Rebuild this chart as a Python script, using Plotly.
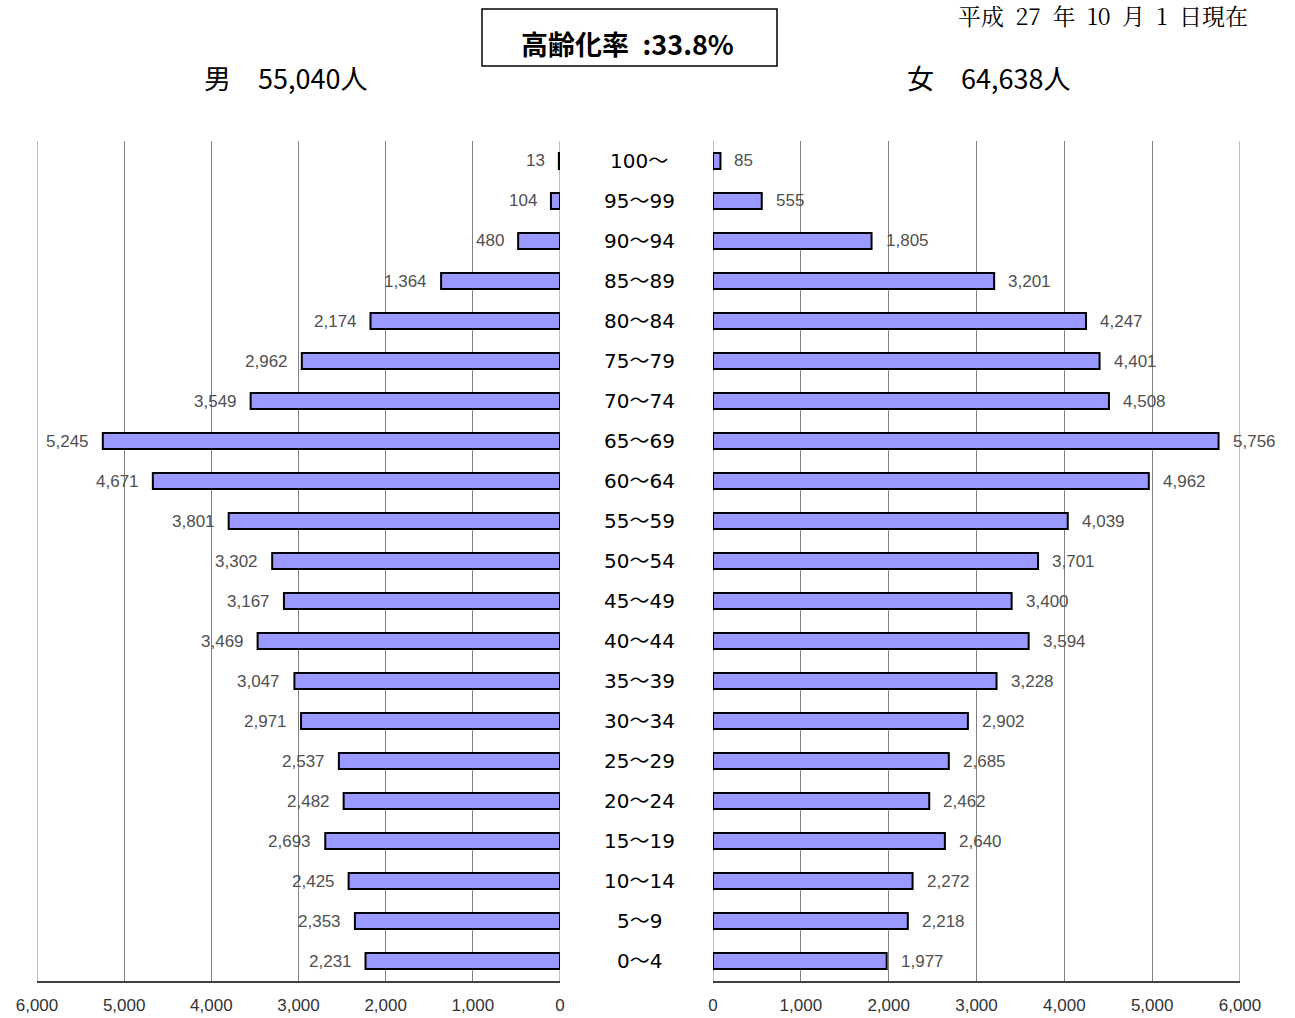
import plotly.graph_objects as go

categories = ["100～", "95～99", "90～94", "85～89", "80～84", "75～79", "70～74",
              "65～69", "60～64", "55～59", "50～54", "45～49", "40～44", "35～39",
              "30～34", "25～29", "20～24", "15～19", "10～14", "5～9", "0～4"]
male = [13, 104, 480, 1364, 2174, 2962, 3549, 5245, 4671, 3801, 3302, 3167,
        3469, 3047, 2971, 2537, 2482, 2693, 2425, 2353, 2231]
female = [85, 555, 1805, 3201, 4247, 4401, 4508, 5756, 4962, 4039, 3701, 3400,
          3594, 3228, 2902, 2685, 2462, 2640, 2272, 2218, 1977]
tick_vals = [0, 1000, 2000, 3000, 4000, 5000, 6000]
tick_text = ["0", "1,000", "2,000", "3,000", "4,000", "5,000", "6,000"]

W, H = 1295, 1018
NARROW = "Liberation Sans Narrow, Arial Narrow, Liberation Sans, sans-serif"
CJK = "Noto Sans CJK JP, Noto Sans, sans-serif"
CAT = "DejaVu Sans, Noto Sans CJK JP, sans-serif"

fig = go.Figure()
bar_style = dict(orientation="h", width=0.4,
                 marker=dict(color="#9999FF", line=dict(color="#000000", width=2)),
                 hoverinfo="x+y", showlegend=False)
fig.add_trace(go.Bar(y=categories, x=male, xaxis="x", yaxis="y", name="男", **bar_style))
fig.add_trace(go.Bar(y=categories, x=female, xaxis="x2", yaxis="y", name="女", **bar_style))

annotations = []
label_font = dict(family=NARROW, size=17, color="#505050")
for c, m, f in zip(categories, male, female):
    annotations.append(dict(x=m, y=c, xref="x", yref="y", text=f"{m:,}",
                            showarrow=False, xanchor="right", xshift=-12,
                            font=label_font))
    annotations.append(dict(x=f, y=c, xref="x2", yref="y", text=f"{f:,}",
                            showarrow=False, xanchor="left", xshift=12,
                            font=label_font))
    annotations.append(dict(x=639 / W, y=c, xref="paper", yref="y", text=c,
                            showarrow=False, xanchor="center",
                            font=dict(family=CAT, size=20, color="#000000")))

def py(p):
    return 1 - p / H

annotations += [
    dict(x=285 / W, y=py(78), xref="paper", yref="paper", text="男　55,040人",
         showarrow=False, xanchor="center", yanchor="middle",
         font=dict(family=CJK, size=27, color="#000")),
    dict(x=988 / W, y=py(78), xref="paper", yref="paper", text="女　64,638人",
         showarrow=False, xanchor="center", yanchor="middle",
         font=dict(family=CJK, size=27, color="#000")),
    dict(x=627 / W, y=py(43), xref="paper", yref="paper", text="<b>高齢化率\u2002:33.8%</b>",
         showarrow=False, xanchor="center", yanchor="middle",
         font=dict(family=CJK, size=27, color="#000")),
    dict(x=1250 / W, y=py(15), xref="paper", yref="paper",
         text="平成\u200227\u2002年\u200210\u2002月\u20021\u2002日現在",
         showarrow=False, xanchor="right", yanchor="middle",
         font=dict(family="Noto Serif CJK JP, Noto Sans CJK JP, serif", size=23, color="#000")),
]

shapes = [dict(type="rect", xref="paper", yref="paper",
               x0=482 / W, x1=777 / W, y0=py(66), y1=py(9),
               line=dict(color="#000", width=1.5), fillcolor="rgba(0,0,0,0)")]
# edge grid lines (0 and 6000) on both panels, which Plotly omits at the range ends
for xr in ("x", "x2"):
    for v in (tick_vals[0], tick_vals[-1]):
        shapes.append(dict(type="line", xref=xr, yref="y domain", x0=v, x1=v,
                           y0=0, y1=1, line=dict(color="#808080", width=1),
                           layer="below"))

axis_common = dict(tickvals=tick_vals, ticktext=tick_text, showgrid=True,
                   gridcolor="#808080", gridwidth=1, zeroline=False,
                   showline=True, linecolor="#404040", linewidth=2,
                   ticks="", ticklabelstandoff=8, automargin=False,
                   tickfont=dict(family=NARROW, size=17, color="#333"),
                   fixedrange=True)

fig.update_layout(
    width=W, height=H,
    margin=dict(l=0, r=0, t=0, b=0),
    paper_bgcolor="white", plot_bgcolor="white",
    bargap=0.6,
    xaxis=dict(domain=[37 / W, 560 / W], range=[6000, 0], anchor="y", **axis_common),
    xaxis2=dict(domain=[713 / W, 1240 / W], range=[0, 6000], anchor="y", **axis_common),
    yaxis=dict(domain=[py(981), py(141)], range=[20.5, -0.5], type="category",
               categoryorder="array", categoryarray=categories,
               showticklabels=False, showgrid=False, zeroline=False, ticks="",
               automargin=False, fixedrange=True),
    annotations=annotations,
    shapes=shapes,
)

fig.write_html("out.html", config={"displayModeBar": False},
               post_script="document.body.style.margin='0';document.body.style.overflow='hidden';")
